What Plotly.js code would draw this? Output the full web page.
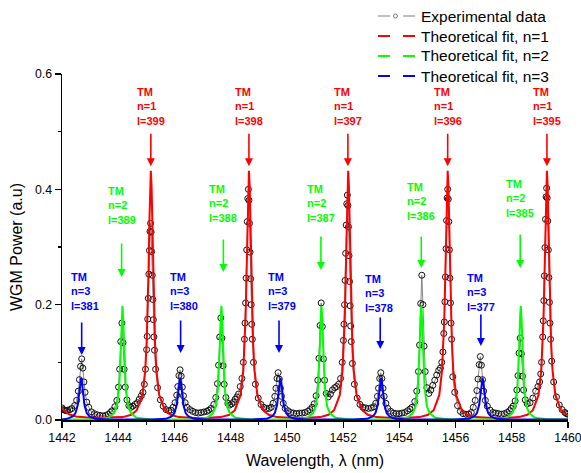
<!DOCTYPE html>
<html>
<head>
<meta charset="utf-8">
<script src="https://cdn.plot.ly/plotly-3.0.1.min.js"></script>
<style>html,body{margin:0;padding:0;background:#fff;}#chart{width:581px;height:473px;}</style>
</head>
<body>
<div id="chart"></div>
<script>
// ---------------- DATA ----------------
const expWavelength = [
1442.00,1442.05,1442.10,1442.15,1442.20,1442.28,1442.35,1442.45,1442.52,1442.58,
1442.62,1442.66,1442.70,1442.74,1442.78,1442.82,1442.88,1442.95,1443.05,1443.15,
1443.25,1443.35,1443.45,1443.55,1443.65,1443.72,1443.78,1443.88,1443.95,1444.01,
1444.05,1444.09,1444.13,1444.17,1444.21,1444.25,1444.31,1444.38,1444.45,1444.52,
1444.60,1444.68,1444.75,1444.82,1444.88,1444.93,1444.97,1445.01,1445.03,1445.05,
1445.07,1445.09,1445.11,1445.13,1445.15,1445.17,1445.19,1445.21,1445.23,1445.25,
1445.27,1445.29,1445.33,1445.40,1445.50,1445.60,1445.70,1445.80,1445.88,1445.95,
1446.02,1446.08,1446.12,1446.16,1446.20,1446.24,1446.28,1446.32,1446.38,1446.45,
1446.55,1446.65,1446.75,1446.85,1446.95,1447.05,1447.15,1447.22,1447.30,1447.40,
1447.47,1447.53,1447.57,1447.61,1447.65,1447.69,1447.73,1447.77,1447.83,1447.90,
1447.97,1448.04,1448.10,1448.16,1448.22,1448.28,1448.34,1448.40,1448.45,1448.49,
1448.51,1448.53,1448.55,1448.57,1448.59,1448.61,1448.63,1448.65,1448.67,1448.69,
1448.71,1448.73,1448.75,1448.77,1448.81,1448.88,1448.98,1449.08,1449.18,1449.28,
1449.37,1449.44,1449.51,1449.57,1449.61,1449.65,1449.69,1449.73,1449.77,1449.81,
1449.87,1449.94,1450.04,1450.14,1450.24,1450.34,1450.44,1450.54,1450.64,1450.74,
1450.82,1450.90,1450.97,1451.04,1451.10,1451.14,1451.18,1451.22,1451.26,1451.30,
1451.34,1451.40,1451.47,1451.55,1451.62,1451.70,1451.77,1451.84,1451.91,1451.97,
1452.01,1452.03,1452.05,1452.07,1452.09,1452.11,1452.13,1452.15,1452.17,1452.19,
1452.21,1452.23,1452.25,1452.27,1452.29,1452.33,1452.40,1452.50,1452.60,1452.70,
1452.80,1452.90,1453.00,1453.09,1453.16,1453.22,1453.26,1453.30,1453.34,1453.38,
1453.42,1453.46,1453.52,1453.59,1453.69,1453.79,1453.89,1453.99,1454.09,1454.19,
1454.29,1454.38,1454.45,1454.55,1454.62,1454.68,1454.72,1454.76,1454.80,1454.84,
1454.88,1454.92,1454.98,1455.05,1455.12,1455.19,1455.26,1455.33,1455.40,1455.46,
1455.51,1455.55,1455.58,1455.60,1455.62,1455.64,1455.66,1455.68,1455.70,1455.72,
1455.74,1455.76,1455.78,1455.80,1455.82,1455.84,1455.86,1455.90,1455.97,1456.07,
1456.17,1456.27,1456.37,1456.47,1456.56,1456.63,1456.70,1456.76,1456.80,1456.84,
1456.88,1456.92,1456.96,1457.00,1457.06,1457.13,1457.23,1457.33,1457.43,1457.53,
1457.63,1457.73,1457.83,1457.92,1457.98,1458.05,1458.12,1458.18,1458.22,1458.26,
1458.30,1458.34,1458.38,1458.42,1458.48,1458.55,1458.65,1458.75,1458.85,1458.93,
1458.99,1459.03,1459.06,1459.10,1459.12,1459.14,1459.16,1459.18,1459.20,1459.22,
1459.24,1459.26,1459.28,1459.30,1459.32,1459.34,1459.36,1459.38,1459.42,1459.49,
1459.59,1459.69,1459.79,1459.89,1459.95,1460.00
];
const expPower = [
0.021,0.018,0.017,0.016,0.017,0.018,0.020,0.025,0.034,0.050,
0.070,0.093,0.106,0.090,0.066,0.048,0.031,0.022,0.014,0.011,
0.009,0.008,0.007,0.008,0.010,0.013,0.016,0.023,0.034,0.057,
0.088,0.136,0.168,0.134,0.088,0.057,0.035,0.025,0.022,0.024,
0.027,0.030,0.036,0.042,0.048,0.062,0.088,0.122,0.145,0.175,
0.211,0.253,0.294,0.327,0.341,0.326,0.292,0.251,0.209,0.174,
0.144,0.121,0.088,0.056,0.035,0.024,0.018,0.016,0.017,0.022,
0.030,0.043,0.058,0.077,0.087,0.076,0.057,0.042,0.030,0.022,
0.018,0.015,0.013,0.012,0.013,0.014,0.015,0.017,0.020,0.027,
0.039,0.063,0.095,0.144,0.177,0.142,0.094,0.062,0.039,0.029,
0.026,0.028,0.031,0.036,0.040,0.045,0.058,0.072,0.100,0.140,
0.168,0.203,0.246,0.295,0.344,0.384,0.400,0.381,0.341,0.291,
0.245,0.200,0.166,0.140,0.100,0.062,0.038,0.027,0.022,0.020,
0.020,0.022,0.029,0.041,0.055,0.072,0.082,0.071,0.055,0.041,
0.029,0.020,0.016,0.013,0.012,0.011,0.012,0.012,0.013,0.015,
0.018,0.022,0.028,0.042,0.069,0.107,0.164,0.203,0.162,0.106,
0.069,0.046,0.040,0.045,0.052,0.056,0.058,0.062,0.072,0.100,
0.138,0.166,0.200,0.242,0.289,0.338,0.375,0.390,0.372,0.335,
0.285,0.240,0.198,0.163,0.136,0.098,0.062,0.038,0.027,0.022,
0.021,0.020,0.021,0.023,0.029,0.041,0.055,0.072,0.082,0.072,
0.055,0.041,0.029,0.020,0.015,0.012,0.011,0.011,0.012,0.013,
0.016,0.019,0.022,0.032,0.050,0.084,0.130,0.202,0.251,0.200,
0.128,0.084,0.056,0.046,0.052,0.060,0.069,0.078,0.086,0.090,
0.100,0.118,0.150,0.170,0.205,0.248,0.297,0.346,0.385,0.400,
0.383,0.344,0.295,0.246,0.203,0.168,0.140,0.075,0.048,0.025,
0.015,0.011,0.010,0.010,0.013,0.022,0.034,0.051,0.071,0.096,
0.110,0.095,0.070,0.050,0.034,0.024,0.017,0.013,0.012,0.011,
0.010,0.011,0.013,0.016,0.020,0.024,0.033,0.052,0.077,0.116,
0.142,0.115,0.076,0.052,0.035,0.028,0.030,0.038,0.050,0.058,
0.066,0.080,0.100,0.144,0.172,0.207,0.250,0.299,0.348,0.387,
0.402,0.385,0.345,0.295,0.247,0.204,0.168,0.140,0.102,0.066,
0.040,0.026,0.018,0.013,0.011,0.010
];

// Theoretical fit, n=1
const fit1Wavelength = [
1442.00,1442.10,1442.25,1442.50,1443.00,1443.60,
1444.16,1444.46,1444.66,1444.86,1444.96,1445.01,1445.04,1445.08,1445.11,1445.135,1445.16,1445.185,1445.21,1445.24,1445.28,1445.31,1445.36,1445.46,1445.66,1445.86,1446.16,1446.90,
1447.65,1447.95,1448.15,1448.35,1448.45,1448.50,1448.53,1448.57,1448.60,1448.625,1448.65,1448.675,1448.70,1448.73,1448.77,1448.80,1448.85,1448.95,1449.15,1449.35,1449.65,1450.40,
1451.18,1451.48,1451.68,1451.88,1451.98,1452.03,1452.06,1452.10,1452.13,1452.155,1452.18,1452.205,1452.23,1452.26,1452.30,1452.33,1452.38,1452.48,1452.68,1452.88,1453.18,1453.95,
1454.72,1455.02,1455.22,1455.42,1455.52,1455.57,1455.60,1455.64,1455.67,1455.695,1455.72,1455.745,1455.77,1455.80,1455.84,1455.87,1455.92,1456.02,1456.22,1456.42,1456.72,1457.48,
1458.25,1458.55,1458.75,1458.95,1459.05,1459.10,1459.13,1459.17,1459.20,1459.225,1459.25,1459.275,1459.30,1459.33,1459.37,1459.40,1459.45,1459.55,1459.75,1459.95,1460.00
];
const fit1Power = [
0.021,0.015,0.010,0.006,0.004,0.004,
0.005,0.009,0.017,0.043,0.086,0.133,0.177,0.263,0.346,0.407,0.432,0.407,0.346,0.263,0.177,0.133,0.086,0.043,0.017,0.009,0.005,0.003,
0.005,0.009,0.017,0.043,0.086,0.133,0.177,0.263,0.346,0.407,0.432,0.407,0.346,0.263,0.177,0.133,0.086,0.043,0.017,0.009,0.005,0.003,
0.005,0.009,0.017,0.043,0.086,0.133,0.177,0.263,0.346,0.407,0.432,0.407,0.346,0.263,0.177,0.133,0.086,0.043,0.017,0.009,0.005,0.003,
0.005,0.009,0.017,0.043,0.086,0.133,0.177,0.263,0.346,0.407,0.432,0.407,0.346,0.263,0.177,0.133,0.086,0.043,0.017,0.009,0.005,0.003,
0.005,0.009,0.017,0.043,0.086,0.133,0.177,0.263,0.346,0.407,0.432,0.407,0.346,0.263,0.177,0.133,0.086,0.043,0.017,0.009,0.008
];

// Theoretical fit, n=2
const fit2Wavelength = [
1442.00,
1443.15,1443.65,1443.85,1443.95,1444.03,1444.07,1444.10,1444.125,1444.15,1444.175,1444.20,1444.23,1444.27,1444.35,1444.45,1444.65,1445.15,
1446.67,1447.17,1447.37,1447.47,1447.55,1447.59,1447.62,1447.645,1447.67,1447.695,1447.72,1447.75,1447.79,1447.87,1447.97,1448.17,1448.67,
1450.23,1450.73,1450.93,1451.03,1451.11,1451.15,1451.18,1451.205,1451.23,1451.255,1451.28,1451.31,1451.35,1451.43,1451.53,1451.73,1452.23,
1453.78,1454.28,1454.48,1454.58,1454.66,1454.70,1454.73,1454.755,1454.78,1454.805,1454.83,1454.86,1454.90,1454.98,1455.08,1455.28,1455.78,
1457.32,1457.82,1458.02,1458.12,1458.20,1458.24,1458.27,1458.295,1458.32,1458.345,1458.37,1458.40,1458.44,1458.52,1458.62,1458.82,1459.32,
1460.00
];
const fit2Power = [
0.001,
0.001,0.004,0.012,0.024,0.055,0.092,0.136,0.177,0.198,0.177,0.136,0.092,0.055,0.024,0.012,0.004,0.001,
0.001,0.004,0.012,0.024,0.055,0.092,0.136,0.177,0.198,0.177,0.136,0.092,0.055,0.024,0.012,0.004,0.001,
0.001,0.004,0.012,0.024,0.055,0.092,0.136,0.177,0.198,0.177,0.136,0.092,0.055,0.024,0.012,0.004,0.001,
0.001,0.004,0.012,0.024,0.055,0.092,0.136,0.177,0.198,0.177,0.136,0.092,0.055,0.024,0.012,0.004,0.001,
0.001,0.004,0.012,0.024,0.055,0.092,0.136,0.177,0.198,0.177,0.136,0.092,0.055,0.024,0.012,0.004,0.001,
0.001
];

// Theoretical fit, n=3
const fit3Wavelength = [
1442.00,1442.18,1442.38,1442.48,1442.56,1442.60,1442.63,1442.655,1442.68,1442.705,1442.73,1442.76,1442.80,1442.88,1442.98,1443.18,1443.68,
1445.20,1445.70,1445.90,1446.00,1446.08,1446.12,1446.15,1446.175,1446.20,1446.225,1446.25,1446.28,1446.32,1446.40,1446.50,1446.70,1447.20,
1448.77,1449.27,1449.47,1449.57,1449.65,1449.69,1449.72,1449.745,1449.77,1449.795,1449.82,1449.85,1449.89,1449.97,1450.07,1450.27,1450.77,
1452.35,1452.85,1453.05,1453.15,1453.23,1453.27,1453.30,1453.325,1453.35,1453.375,1453.40,1453.43,1453.47,1453.55,1453.65,1453.85,1454.35,
1455.96,1456.46,1456.66,1456.76,1456.84,1456.88,1456.91,1456.935,1456.96,1456.985,1457.01,1457.04,1457.08,1457.16,1457.26,1457.46,1457.96,
1460.00
];
const fit3Power = [
0.001,0.002,0.006,0.012,0.026,0.041,0.056,0.068,0.073,0.068,0.056,0.041,0.026,0.012,0.006,0.002,0.001,
0.001,0.002,0.006,0.012,0.026,0.041,0.056,0.068,0.073,0.068,0.056,0.041,0.026,0.012,0.006,0.002,0.001,
0.001,0.002,0.006,0.012,0.026,0.041,0.056,0.068,0.073,0.068,0.056,0.041,0.026,0.012,0.006,0.002,0.001,
0.001,0.002,0.006,0.012,0.026,0.041,0.056,0.068,0.073,0.068,0.056,0.041,0.026,0.012,0.006,0.002,0.001,
0.001,0.002,0.006,0.012,0.026,0.041,0.056,0.068,0.073,0.068,0.056,0.041,0.026,0.012,0.006,0.002,0.001,
0.001
];

const seriesNames = ['Experimental data','Theoretical fit, n=1','Theoretical fit, n=2','Theoretical fit, n=3'];
const modeN = [1, 2, 3];
const labelsN1 = ['l=399','l=398','l=397','l=396','l=395'];
const labelsN2 = ['l=389','l=388','l=387','l=386','l=385'];
const labelsN3 = ['l=381','l=380','l=379','l=378','l=377'];
const xTickVals = [1442,1444,1446,1448,1450,1452,1454,1456,1458,1460];

// ---------------- LAYOUT / STYLE ----------------
const FONT = 'Arial, "Liberation Sans", Helvetica, sans-serif';
const colors = ['#ff0000', '#00ff00', '#0000ff'];
const M = {l: 62, r: 13, t: 74, b: 53};
const W = 581, H = 473;
const PW = W - M.l - M.r, PH = H - M.t - M.b;
const px2paperX = p => (p - M.l) / PW;
const px2paperY = p => (H - M.b - p) / PH;

// label placement (arrow x, text centre y, arrow tail y, arrow tip y, text x shift)
const labelPlacement = [
  {labels: labelsN1, x: [1445.16,1448.65,1452.17,1455.72,1459.25],
   textY: [0.5433,0.5433,0.5433,0.5433,0.5433], tail: [0.4991,0.4991,0.4991,0.4991,0.4991],
   tip: [0.4402,0.4402,0.4402,0.4402,0.4402], shift: [0,0,0,0,0]},
  {labels: labelsN2, x: [1444.12,1447.74,1451.21,1454.78,1458.30],
   textY: [0.3726,0.3752,0.3752,0.3783,0.3839], tail: [0.3085,0.3154,0.3206,0.3206,0.3241],
   tip: [0.2478,0.2565,0.2600,0.2634,0.2634], shift: [0,0,0,0,0]},
  {labels: labelsN3, x: [1442.70,1446.22,1449.72,1453.32,1456.90],
   textY: [0.2227,0.2227,0.2227,0.2192,0.2218], tail: [0.1716,0.1750,0.1750,0.1802,0.1854],
   tip: [0.1127,0.1161,0.1161,0.1231,0.1282], shift: [3,3,3,-1,0]}
];

const annotations = [];
labelPlacement.forEach((g, gi) => {
  g.labels.forEach((lab, i) => {
    annotations.push({
      x: g.x[i], y: g.textY[i], xref: 'x', yref: 'y',
      text: '<b>TM<br>n=' + modeN[gi] + '<br>' + lab + '</b>',
      showarrow: false, align: 'left', xanchor: 'center', yanchor: 'middle',
      xshift: g.shift[i],
      font: {family: FONT, size: 11, color: colors[gi]}
    });
    annotations.push({
      x: g.x[i], y: g.tip[i], ax: g.x[i], ay: g.tail[i],
      xref: 'x', yref: 'y', axref: 'x', ayref: 'y',
      text: '', showarrow: true, arrowhead: 2, arrowsize: 1, arrowwidth: 1.6,
      arrowcolor: colors[gi], standoff: 0
    });
  });
});

// hand-built legend (rows 20 px apart, as in the reference)
const legendRowsPx = [16, 36, 56, 76];
const legendColors = ['#808080', colors[0], colors[1], colors[2]];
const shapes = [];
legendRowsPx.forEach((py, i) => {
  annotations.push({
    xref: 'paper', yref: 'paper', x: px2paperX(419), y: px2paperY(py),
    xanchor: 'left', yanchor: 'middle', showarrow: false, text: seriesNames[i],
    font: {family: FONT, size: 15.5, color: '#000'}
  });
  shapes.push({
    type: 'line', xref: 'paper', yref: 'paper', layer: 'above',
    x0: px2paperX(378), x1: px2paperX(415), y0: px2paperY(py), y1: px2paperY(py),
    line: {color: legendColors[i], width: i === 0 ? 1.2 : 2, dash: '12px,13px'}
  });
});
shapes.push({
  type: 'circle', xref: 'paper', yref: 'paper', layer: 'above',
  x0: px2paperX(393.5), x1: px2paperX(397.5), y0: px2paperY(18), y1: px2paperY(14),
  line: {color: '#555555', width: 0.8}, fillcolor: 'rgba(0,0,0,0)'
});

const traces = [
  {x: expWavelength, y: expPower, type: 'scatter', mode: 'lines+markers', name: seriesNames[0],
   line: {color: '#6a6a6a', width: 0.8},
   marker: {symbol: 'circle-open', size: 6, color: '#111111', line: {width: 1}}},
  {x: fit1Wavelength, y: fit1Power, type: 'scatter', mode: 'lines', name: seriesNames[1],
   line: {color: colors[0], width: 2}},
  {x: fit2Wavelength, y: fit2Power, type: 'scatter', mode: 'lines', name: seriesNames[2],
   line: {color: colors[1], width: 2}},
  {x: fit3Wavelength, y: fit3Power, type: 'scatter', mode: 'lines', name: seriesNames[3],
   line: {color: colors[2], width: 2}}
];

const layout = {
  width: W, height: H,
  margin: Object.assign({autoexpand: false}, M),
  paper_bgcolor: '#ffffff', plot_bgcolor: '#ffffff',
  font: {family: FONT, size: 12, color: '#000000'},
  showlegend: false,
  xaxis: {
    range: [1442, 1460], tickvals: xTickVals, ticks: 'outside', ticklen: 6, tickwidth: 1.2,
    tickcolor: '#000', showline: true, linecolor: '#000', linewidth: 1.5, mirror: false,
    showgrid: false, zeroline: false, tickfont: {size: 12.3}, ticklabeloverflow: 'allow',
    automargin: false,
    minor: {dtick: 1, ticks: 'outside', ticklen: 3, tickwidth: 1.2, tickcolor: '#000', showgrid: false},
    title: {text: 'Wavelength, λ (nm)', font: {size: 16}, standoff: 10}
  },
  yaxis: {
    range: [0, 0.6], dtick: 0.2, tick0: 0, tickformat: '.1f', ticks: 'outside', ticklen: 6, tickwidth: 1.2,
    tickcolor: '#000', showline: true, linecolor: '#000', linewidth: 1.5, mirror: false,
    showgrid: false, zeroline: false, tickfont: {size: 12.3}, automargin: false,
    minor: {dtick: 0.1, ticks: 'outside', ticklen: 3, tickwidth: 1.2, tickcolor: '#000', showgrid: false},
    title: {text: 'WGM Power (a.u)', font: {size: 16}, standoff: 8}
  },
  shapes: shapes,
  annotations: annotations
};

Plotly.newPlot('chart', traces, layout, {displayModeBar: false, staticPlot: true});
</script>
</body>
</html>
